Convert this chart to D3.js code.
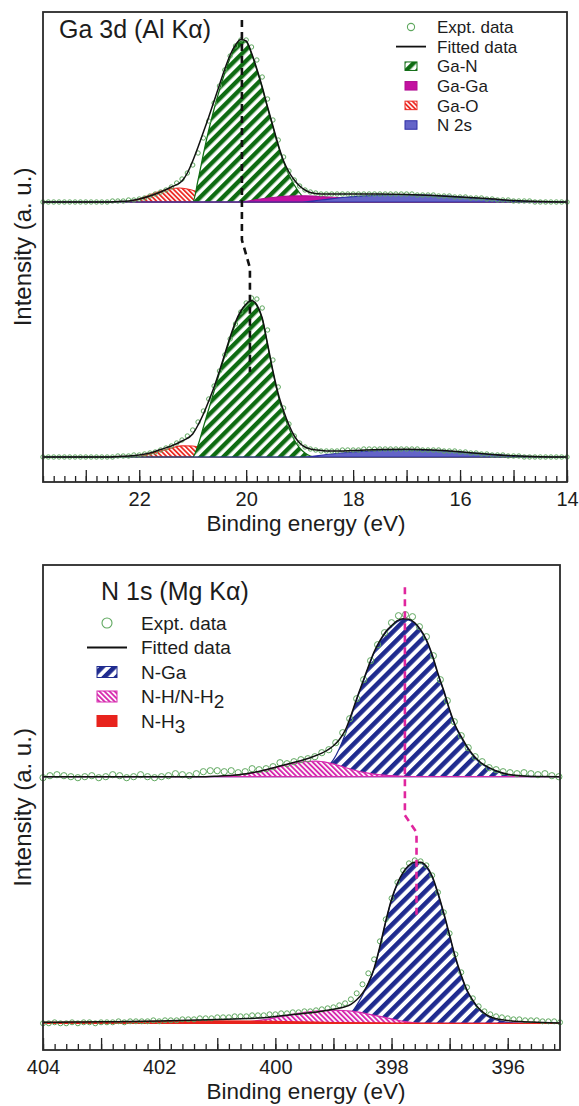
<!DOCTYPE html>
<html>
<head>
<meta charset="utf-8">
<script src="https://cdn.jsdelivr.net/npm/d3@7"></script>
<style>
  body { margin: 0; background: #fff; }
  text { font-family: "Liberation Sans", Arial, sans-serif; fill: #1c1c1c; }
</style>
</head>
<body>
<svg id="chart" width="579" height="1106"></svg>
<script>
// ---------- Ga 3d (Al Ka) ----------
const gaExptStart = 23.8, gaExptStep = 0.1;
const gaExptTop = [
  0, 0, 0, 0, 0, 0, 0, 0, 0, 0,
  0, 0, 0, 0.01, 0.01, 0.01, 0.02, 0.02, 0.03, 0.04,
  0.06, 0.08, 0.10, 0.12, 0.15, 0.19, 0.23, 0.29, 0.37, 0.49,
  0.64, 0.81, 0.99, 1.16, 1.32, 1.46, 1.56, 1.62, 1.62, 1.55,
  1.42, 1.25, 1.03, 0.82, 0.62, 0.45, 0.31, 0.22, 0.16, 0.12,
  0.10, 0.09, 0.08, 0.08, 0.08, 0.08, 0.08, 0.08, 0.08, 0.08,
  0.08, 0.08, 0.08, 0.08, 0.08, 0.08, 0.08, 0.08, 0.08, 0.08,
  0.07, 0.07, 0.07, 0.07, 0.06, 0.06, 0.06, 0.05, 0.05, 0.05,
  0.04, 0.04, 0.04, 0.03, 0.03, 0.02, 0.02, 0.02, 0.01, 0.01,
  0.01, 0.01, 0, 0, 0, 0, 0, 0, 0
];
const gaExptBottom = [
  0, 0, 0, 0, 0, 0, 0, 0, 0, 0,
  0, 0, 0, 0, 0.01, 0.01, 0.01, 0.02, 0.02, 0.03,
  0.04, 0.05, 0.07, 0.09, 0.11, 0.14, 0.17, 0.21, 0.27, 0.35,
  0.46, 0.58, 0.71, 0.86, 1.02, 1.18, 1.33, 1.45, 1.54, 1.59,
  1.58, 1.49, 1.27, 0.97, 0.70, 0.49, 0.33, 0.21, 0.14, 0.10,
  0.08, 0.07, 0.06, 0.06, 0.06, 0.06, 0.07, 0.07, 0.07, 0.07,
  0.08, 0.08, 0.08, 0.08, 0.08, 0.08, 0.08, 0.08, 0.08, 0.08,
  0.08, 0.07, 0.07, 0.07, 0.07, 0.06, 0.06, 0.06, 0.05, 0.05,
  0.04, 0.04, 0.03, 0.03, 0.02, 0.02, 0.02, 0.01, 0.01, 0.01,
  0, 0, 0, 0, 0, 0, 0, 0, 0
];
const gaFitTop = [[23.8,0],[22.6,0],[22.4,0.005],[22.2,0.01],[22.0,0.03],[21.8,0.06],[21.6,0.10],[21.4,0.15],
  [21.2,0.21],[21.1,0.29],[21.0,0.41],[20.9,0.55],[20.8,0.70],[20.7,0.85],[20.6,1.01],[20.5,1.17],[20.4,1.33],
  [20.3,1.47],[20.2,1.57],[20.1,1.625],[20.0,1.61],[19.9,1.49],[19.8,1.33],[19.7,1.15],[19.6,0.95],[19.5,0.76],
  [19.4,0.57],[19.3,0.41],[19.2,0.30],[19.1,0.22],[19.0,0.16],[18.9,0.12],[18.8,0.095],[18.7,0.085],[18.5,0.08],
  [18.0,0.08],[17.5,0.08],[17.0,0.075],[16.5,0.065],[16.0,0.05],[15.5,0.035],[15.0,0.015],[14.5,0.005],[14.0,0]];
const gaNTop = [[23.8,0],[21.0,0],[20.9,0.22],[20.8,0.48],[20.7,0.72],[20.6,0.93],[20.5,1.12],[20.4,1.29],
  [20.3,1.44],[20.2,1.55],[20.1,1.61],[20.0,1.60],[19.9,1.48],[19.8,1.32],[19.7,1.14],[19.6,0.94],[19.5,0.75],
  [19.4,0.56],[19.3,0.40],[19.2,0.27],[19.1,0.17],[19.0,0.09],[18.9,0.03],[18.8,0],[14.0,0]];
const gaGaTop = [[23.8,0],[20.1,0],[19.8,0.025],[19.5,0.045],[19.2,0.058],[18.9,0.062],[18.6,0.055],[18.3,0.045],
  [18.0,0.03],[17.5,0.015],[17.0,0.005],[16.5,0],[14.0,0]];
const gaOTop = [[23.8,0],[22.3,0],[22.0,0.03],[21.8,0.07],[21.6,0.11],[21.4,0.135],[21.25,0.14],[21.1,0.13],
  [20.9,0.10],[20.7,0.065],[20.5,0.035],[20.3,0.012],[20.1,0],[14.0,0]];
const gaN2sTop = [[23.8,0],[19.0,0],[18.6,0.02],[18.2,0.045],[17.8,0.062],[17.4,0.072],[17.0,0.075],[16.6,0.07],
  [16.2,0.058],[15.8,0.042],[15.4,0.025],[15.0,0.012],[14.6,0.004],[14.2,0],[14.0,0]];

const gaFitBottom = [[23.8,0],[22.6,0],[22.4,0.005],[22.2,0.01],[22.0,0.02],[21.8,0.04],[21.6,0.075],[21.4,0.11],
  [21.2,0.16],[21.0,0.23],[20.9,0.32],[20.8,0.43],[20.7,0.56],[20.6,0.70],[20.5,0.86],[20.4,1.03],[20.3,1.20],
  [20.2,1.35],[20.1,1.46],[20.0,1.53],[19.9,1.565],[19.8,1.52],[19.7,1.39],[19.6,1.13],[19.5,0.86],[19.4,0.63],
  [19.3,0.46],[19.2,0.32],[19.1,0.21],[19.0,0.14],[18.9,0.10],[18.8,0.08],[18.6,0.065],[18.4,0.06],[18.0,0.065],
  [17.5,0.075],[17.0,0.078],[16.5,0.07],[16.0,0.052],[15.5,0.03],[15.0,0.012],[14.5,0.003],[14.0,0]];
const gaNBottom = [[23.8,0],[21.0,0],[20.9,0.12],[20.8,0.30],[20.7,0.48],[20.6,0.66],[20.5,0.84],[20.4,1.01],
  [20.3,1.18],[20.2,1.33],[20.1,1.45],[20.0,1.52],[19.9,1.555],[19.8,1.51],[19.7,1.38],[19.6,1.12],[19.5,0.85],
  [19.4,0.61],[19.3,0.43],[19.2,0.29],[19.1,0.17],[19.0,0.09],[18.9,0.04],[18.8,0.01],[18.7,0],[14.0,0]];
const gaOBottom = [[23.8,0],[22.1,0],[21.8,0.03],[21.6,0.06],[21.4,0.09],[21.2,0.112],[21.0,0.11],[20.8,0.085],
  [20.6,0.05],[20.4,0.022],[20.2,0.006],[20.0,0],[14.0,0]];
const gaN2sBottom = [[23.8,0],[18.9,0],[18.5,0.025],[18.0,0.05],[17.5,0.065],[17.0,0.07],[16.5,0.065],[16.0,0.05],
  [15.5,0.03],[15.0,0.012],[14.6,0.003],[14.3,0],[14.0,0]];

// peak shift guide (energy, intensity)
const gaShift = [[20.08,4.37],[20.08,2.17],[19.93,1.89],[19.93,0.85]];
const gaMajorTicks = [23, 22, 21, 20, 19, 18, 17, 16, 15, 14];
const gaTickLabels = [22, 20, 18, 16, 14];
const gaLegend = ["Expt. data", "Fitted data", "Ga-N", "Ga-Ga", "Ga-O", "N 2s"];

// ---------- N 1s (Mg Ka) ----------
const nExptTopStart = 404, nExptTopStep = 0.12;
const nExptTop = [
  -0.01, 0.01, 0.02, 0.01, 0.00, -0.01, 0.00, 0.01, -0.01, 0.00,
  0.02, 0.01, -0.01, 0.00, 0.02, 0.00, -0.01, 0.00, 0.01, 0.03,
  0.02, 0.01, 0.03, 0.05, 0.06, 0.06, 0.05, 0.06, 0.04, 0.05,
  0.08, 0.07, 0.08, 0.10, 0.14, 0.13, 0.15, 0.17, 0.18, 0.20,
  0.24, 0.27, 0.34, 0.44, 0.58, 0.78, 0.97, 1.16, 1.32, 1.44,
  1.54, 1.61, 1.62, 1.60, 1.50, 1.40, 1.21, 0.97, 0.76, 0.55,
  0.41, 0.29, 0.20, 0.15, 0.09, 0.07, 0.05, 0.04, 0.03, 0.04,
  0.03, 0.02, 0.03, 0.01, 0.00
];
const nExptBottomStart = 404, nExptBottomStep = 0.1;
const nExptBottom = [
  0.00, 0.00, 0.01, 0.00, 0.00, 0.01, 0.00, 0.01, 0.01, 0.00,
  0.01, 0.01, 0.01, 0.02, 0.01, 0.02, 0.02, 0.02, 0.02, 0.03,
  0.02, 0.03, 0.03, 0.03, 0.04, 0.04, 0.04, 0.05, 0.05, 0.05,
  0.06, 0.06, 0.06, 0.07, 0.07, 0.07, 0.08, 0.08, 0.08, 0.09,
  0.09, 0.10, 0.10, 0.11, 0.11, 0.12, 0.12, 0.13, 0.14, 0.15,
  0.16, 0.18, 0.20, 0.24, 0.30, 0.39, 0.50, 0.64, 0.82, 1.04,
  1.25, 1.41, 1.53, 1.60, 1.63, 1.62, 1.58, 1.48, 1.31, 1.11,
  0.90, 0.69, 0.51, 0.36, 0.25, 0.17, 0.12, 0.09, 0.07, 0.06,
  0.05, 0.04, 0.04, 0.03, 0.03, 0.03, 0.02, 0.02, 0.02, 0.01
];
const nFitTop = [[404,0],[401.2,0],[401.0,0.005],[400.8,0.012],[400.6,0.022],[400.4,0.04],[400.2,0.065],
  [400.0,0.095],[399.8,0.125],[399.6,0.155],[399.4,0.19],[399.2,0.235],[399.0,0.31],[398.9,0.37],[398.8,0.46],
  [398.7,0.61],[398.6,0.78],[398.5,0.94],[398.4,1.10],[398.3,1.25],[398.2,1.36],[398.1,1.45],[398.0,1.51],
  [397.9,1.56],[397.8,1.58],[397.7,1.575],[397.6,1.54],[397.5,1.47],[397.4,1.37],[397.3,1.22],[397.2,1.03],
  [397.1,0.86],[397.0,0.67],[396.9,0.51],[396.8,0.40],[396.7,0.30],[396.6,0.22],[396.5,0.16],[396.4,0.115],
  [396.2,0.06],[396.0,0.025],[395.8,0.01],[395.5,0.002],[395.1,0]];
const nGaTop = [[404,0],[399.4,0],[399.2,0.05],[399.1,0.10],[399.0,0.17],[398.9,0.28],[398.8,0.42],[398.7,0.59],
  [398.6,0.77],[398.5,0.93],[398.4,1.09],[398.3,1.24],[398.2,1.35],[398.1,1.44],[398.0,1.50],[397.9,1.55],
  [397.8,1.57],[397.7,1.565],[397.6,1.53],[397.5,1.46],[397.4,1.36],[397.3,1.21],[397.2,1.02],[397.1,0.85],
  [397.0,0.66],[396.9,0.50],[396.8,0.39],[396.7,0.29],[396.6,0.21],[396.5,0.15],[396.4,0.11],[396.2,0.055],
  [396.0,0.02],[395.8,0.008],[395.5,0],[395.1,0]];
const nHTop = [[404,0],[401.0,0],[400.6,0.02],[400.3,0.05],[400.0,0.09],[399.7,0.13],[399.5,0.15],[399.3,0.155],
  [399.1,0.14],[398.9,0.11],[398.7,0.075],[398.5,0.045],[398.3,0.025],[398.0,0.01],[397.6,0],[395.1,0]];

const nFitBottom = [[404,0.01],[403.5,0.012],[403,0.015],[402.5,0.019],[402,0.024],[401.5,0.03],[401,0.037],
  [400.5,0.047],[400.2,0.056],[400.0,0.068],[399.8,0.08],[399.6,0.093],[399.4,0.105],[399.2,0.12],[399.0,0.14],
  [398.8,0.165],[398.7,0.19],[398.6,0.235],[398.5,0.30],[398.4,0.40],[398.3,0.55],[398.2,0.77],[398.1,1.02],
  [398.0,1.24],[397.9,1.40],[397.8,1.51],[397.7,1.58],[397.6,1.61],[397.5,1.61],[397.4,1.57],[397.3,1.47],
  [397.2,1.30],[397.1,1.10],[397.0,0.88],[396.9,0.66],[396.8,0.48],[396.7,0.33],[396.6,0.23],[396.5,0.15],
  [396.4,0.10],[396.3,0.065],[396.2,0.045],[396.0,0.027],[395.8,0.018],[395.6,0.012],[395.4,0.007],[395.1,0.003]];
const nGaBottom = [[404,0],[398.9,0],[398.7,0.10],[398.6,0.18],[398.5,0.28],[398.4,0.40],[398.3,0.54],[398.2,0.76],
  [398.1,1.01],[398.0,1.23],[397.9,1.39],[397.8,1.50],[397.7,1.57],[397.6,1.60],[397.5,1.60],[397.4,1.56],
  [397.3,1.46],[397.2,1.29],[397.1,1.09],[397.0,0.87],[396.9,0.65],[396.8,0.47],[396.7,0.32],[396.6,0.22],
  [396.5,0.14],[396.4,0.09],[396.3,0.055],[396.1,0.02],[395.9,0.005],[395.6,0],[395.1,0]];
const nHBottom = [[404,0],[400.7,0],[400.4,0.02],[400.1,0.045],[399.8,0.08],[399.5,0.11],[399.2,0.128],
  [398.9,0.13],[398.6,0.115],[398.3,0.08],[398.0,0.045],[397.8,0.02],[397.6,0.005],[397.4,0],[395.1,0]];
const nH3Bottom = [[404,0.01],[403,0.015],[402,0.02],[401,0.024],[400.3,0.022],[399.6,0.015],[399,0.008],
  [398,0.003],[397,0],[395.1,0]];

const nShift = [[397.77,4.36],[397.77,2.08],[397.57,1.91],[397.57,1.05]];
const nMajorTicks = [404, 403, 402, 401, 400, 399, 398, 397, 396];
const nTickLabels = [404, 402, 400, 398, 396];
const nLegend = ["Expt. data", "Fitted data", "N-Ga", "N-H/N-H_2", "N-H_3"];

// ---------- drawing ----------
const svg = d3.select("#chart");
const defs = svg.append("defs");

function stripes(id, color, period, width, angle) {
    let p = defs.append("pattern")
        .attr("id", id)
        .attr("patternUnits", "userSpaceOnUse")
        .attr("width", period)
        .attr("height", period)
        .attr("patternTransform", `rotate(${angle})`);
    p.append("rect").attr("width", period).attr("height", period).attr("fill", "#fff");
    p.append("rect").attr("width", width).attr("height", period).attr("fill", color);
}
stripes("hatchGaN", "#0e6b12", 8, 4.4, 45);
stripes("hatchGaO", "#ec2a24", 3.4, 1.8, -45);
stripes("hatchNGa", "#1f2b8f", 8.6, 4.6, 45);
stripes("hatchNH", "#d62aae", 3.6, 1.9, -45);

const styles = {
    "Ga-N":  { fill: "url(#hatchGaN)", stroke: "#0e6b12" },
    "Ga-Ga": { fill: "#c311a0", stroke: "#b00e92" },
    "Ga-O":  { fill: "url(#hatchGaO)", stroke: "#ec2a24" },
    "N 2s":  { fill: "#6464c8", stroke: "#2e2ea6" },
    "N-Ga":  { fill: "url(#hatchNGa)", stroke: "#1f2b8f" },
    "N-H/N-H_2": { fill: "url(#hatchNH)", stroke: "#d62aae" },
    "N-H_3": { fill: "#e8231d", stroke: "#e8231d" }
};
const exptColor = "#5fa85f";

function drawPanel(cfg) {
    let g = svg.append("g").attr("transform", `translate(${cfg.left},${cfg.top})`);
    let x = d3.scaleLinear().domain(cfg.xDomain).range([0, cfg.width]);
    let y = d3.scaleLinear().domain(cfg.yDomain).range([cfg.height, 0]);

    cfg.spectra.forEach(sp => {
        let off = sp.offset;
        let area = d3.area()
            .x(d => x(d[0]))
            .y0(y(off))
            .y1(d => y(d[1] + off))
            .curve(d3.curveMonotoneX);
        let line = d3.line()
            .x(d => x(d[0]))
            .y(d => y(d[1] + off))
            .curve(d3.curveMonotoneX);

        sp.components.forEach(c => {
            g.append("path")
                .datum(c.data)
                .attr("d", area)
                .attr("fill", styles[c.name].fill)
                .attr("stroke", styles[c.name].stroke)
                .attr("stroke-width", 1.2);
        });

        let pts = sp.expt.values.map((v, i) => [sp.expt.start - i * sp.expt.step, v]);
        g.append("g").selectAll("circle")
            .data(pts)
            .join("circle")
            .attr("cx", d => x(d[0]))
            .attr("cy", d => y(d[1] + off))
            .attr("r", sp.expt.r)
            .attr("fill", "none")
            .attr("stroke", exptColor)
            .attr("stroke-width", 1);

        g.append("path")
            .datum(sp.fit)
            .attr("d", line)
            .attr("fill", "none")
            .attr("stroke", "#111")
            .attr("stroke-width", 1.5);
    });

    // shift guide
    g.append("path")
        .datum(cfg.shift)
        .attr("d", d3.line().x(d => x(d[0])).y(d => y(d[1])))
        .attr("fill", "none")
        .attr("stroke", cfg.shiftColor)
        .attr("stroke-width", 2.6)
        .attr("stroke-dasharray", "7,5");

    // ticks (inside)
    let major = d3.axisBottom(x)
        .tickValues(cfg.majorTicks)
        .tickSize(-12)
        .tickPadding(10)
        .tickFormat(d => cfg.tickLabels.includes(d) ? d : "");
    let minor = d3.axisBottom(x)
        .tickValues(cfg.minorTicks)
        .tickSize(-6)
        .tickFormat("");
    let gMinor = g.append("g").attr("transform", `translate(0,${cfg.height})`).call(minor);
    let gMajor = g.append("g").attr("transform", `translate(0,${cfg.height})`).call(major);
    [gMinor, gMajor].forEach(a => {
        a.select(".domain").remove();
        a.selectAll("line").attr("stroke", "#222").attr("stroke-width", 1.3);
    });
    gMajor.selectAll("text")
        .attr("font-size", 20)
        .attr("font-family", "Liberation Sans, Arial, sans-serif")
        .attr("fill", "#1c1c1c");

    // frame
    g.append("rect")
        .attr("width", cfg.width)
        .attr("height", cfg.height)
        .attr("fill", "none")
        .attr("stroke", "#2a2a2a")
        .attr("stroke-width", 1.8);

    g.append("text")
        .attr("x", 306 - cfg.left)
        .attr("y", cfg.height + 49)
        .attr("text-anchor", "middle")
        .attr("font-size", 22.5)
        .text("Binding energy (eV)");

    g.append("text")
        .attr("transform", `translate(${31 - cfg.left},${cfg.height / 2}) rotate(-90)`)
        .attr("text-anchor", "middle")
        .attr("font-size", 24)
        .text("Intensity (a. u.)");

    g.append("text")
        .attr("x", cfg.title.x - cfg.left)
        .attr("y", cfg.title.y - cfg.top)
        .attr("font-size", 25)
        .text(cfg.title.text);

    // legend
    let lg = cfg.legend;
    cfg.legendLabels.forEach((name, i) => {
        let cy = lg.y - cfg.top + i * lg.gap;
        let sx = lg.symX - cfg.left;
        if (i === 0) {
            g.append("circle").attr("cx", sx).attr("cy", cy).attr("r", lg.r)
                .attr("fill", "none").attr("stroke", exptColor).attr("stroke-width", 1.1);
        } else if (i === 1) {
            g.append("line").attr("x1", sx - lg.lineW / 2).attr("x2", sx + lg.lineW / 2)
                .attr("y1", cy).attr("y2", cy).attr("stroke", "#111").attr("stroke-width", 1.8);
        } else {
            g.append("rect").attr("x", sx - lg.boxW / 2).attr("y", cy - lg.boxH / 2)
                .attr("width", lg.boxW).attr("height", lg.boxH)
                .attr("fill", styles[name].fill).attr("stroke", styles[name].stroke).attr("stroke-width", 1);
        }
        let parts = name.split("_");
        let t = g.append("text")
            .attr("x", lg.textX - cfg.left)
            .attr("y", cy)
            .attr("dy", "0.36em")
            .attr("font-size", lg.fontSize)
            .text(parts[0]);
        if (parts[1]) {
            t.append("tspan").attr("dy", 5).text(parts[1]);
        }
    });
}

drawPanel({
    left: 43, top: 12, width: 524, height: 470,
    xDomain: [23.8, 14], yDomain: [-0.25, 4.45],
    spectra: [
        { offset: 2.55,
          components: [
            { name: "Ga-O", data: gaOTop },
            { name: "Ga-N", data: gaNTop },
            { name: "Ga-Ga", data: gaGaTop },
            { name: "N 2s", data: gaN2sTop }],
          fit: gaFitTop,
          expt: { start: gaExptStart, step: gaExptStep, values: gaExptTop, r: 2.2 } },
        { offset: 0,
          components: [
            { name: "Ga-O", data: gaOBottom },
            { name: "Ga-N", data: gaNBottom },
            { name: "N 2s", data: gaN2sBottom }],
          fit: gaFitBottom,
          expt: { start: gaExptStart, step: gaExptStep, values: gaExptBottom, r: 2.2 } }
    ],
    shift: gaShift, shiftColor: "#111",
    majorTicks: gaMajorTicks, tickLabels: gaTickLabels,
    minorTicks: d3.range(140, 239, 2).map(v => v / 10),
    title: { text: "Ga 3d (Al Kα)", x: 59, y: 38 },
    legendLabels: gaLegend,
    legend: { y: 27, gap: 19.6, symX: 411, textX: 437, r: 3.6, lineW: 30, boxW: 12, boxH: 8.5, fontSize: 17 }
});

drawPanel({
    left: 43, top: 565, width: 517, height: 485,
    xDomain: [404, 395.1], yDomain: [-0.267, 4.583],
    spectra: [
        { offset: 2.466,
          components: [
            { name: "N-Ga", data: nGaTop },
            { name: "N-H/N-H_2", data: nHTop }],
          fit: nFitTop,
          expt: { start: nExptTopStart, step: nExptTopStep, values: nExptTop, r: 3.1 } },
        { offset: 0,
          components: [
            { name: "N-Ga", data: nGaBottom },
            { name: "N-H/N-H_2", data: nHBottom },
            { name: "N-H_3", data: nH3Bottom }],
          fit: nFitBottom,
          expt: { start: nExptBottomStart, step: nExptBottomStep, values: nExptBottom, r: 2.5 } }
    ],
    shift: nShift, shiftColor: "#e0269e",
    majorTicks: nMajorTicks, tickLabels: nTickLabels,
    minorTicks: d3.range(1976, 2021).map(v => v / 5),
    title: { text: "N 1s (Mg Kα)", x: 101, y: 600 },
    legendLabels: nLegend,
    legend: { y: 623, gap: 24.5, symX: 107, textX: 141, r: 5, lineW: 40, boxW: 20, boxH: 11, fontSize: 19 }
});
</script>
</body>
</html>
